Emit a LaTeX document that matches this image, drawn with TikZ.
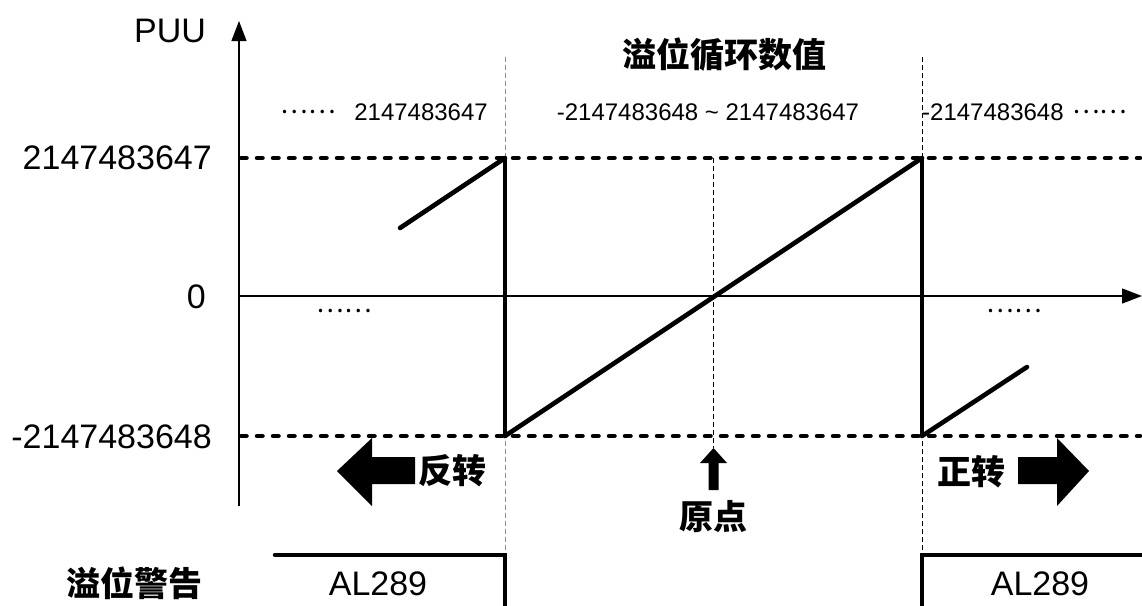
\documentclass[tikz,border=0pt]{standalone}
\usepackage{fontspec}
\setmainfont{Liberation Sans}
\newfontfamily\cjk{Noto Sans CJK SC}
\usetikzlibrary{arrows.meta}
\definecolor{PUBlack}{HTML}{000000}
\definecolor{PUGray}{HTML}{8C8C8C}
\tikzset{
  biglabel/.style={font=\fontsize{34}{40}\selectfont,text=PUBlack,inner sep=0pt},
  rowlabel/.style={font=\fontsize{24}{28}\selectfont,text=PUBlack,inner sep=0pt},
  cjklabel/.style={font=\cjk\bfseries\fontsize{34}{40}\selectfont,text=PUBlack,inner sep=0pt},
  dotlabel/.style={font=\cjk\fontsize{26}{30}\selectfont,text=PUBlack,inner sep=0pt},
  levelline/.style={PUBlack,line width=4.5pt,line cap=round,dash pattern=on 5.5pt off 10.5pt},
  guideline/.style={line width=1pt,dash pattern=on 5pt off 3pt},
  sawline/.style={PUBlack,line width=4.6pt,line cap=round,line join=miter},
  fatarrow/.style={fill=PUBlack}
}
\begin{document}
\begin{tikzpicture}[x=1pt,y=-1pt,line join=round]
  \useasboundingbox (0,0) rectangle (1142,605);
  % axes
  \coordinate (yb) at (239,506);
  \coordinate (yt) at (239,21);
  \coordinate (xl) at (239,296);
  \coordinate (xr) at (1142,296);
  \draw[PUBlack,line width=1.2pt,-{Triangle[length=20pt,width=15pt]}] (yb) -- (yt);
  \draw[PUBlack,line width=1.2pt,-{Triangle[length=20pt,width=15pt]}] (xl) -- (xr);
  \node[biglabel] (puu) at (170,31) {PUU};
  % level lines
  \foreach \y/\nm in {158/top,436/bot}{
    \coordinate (\nm L) at (241,\y);
    \coordinate (\nm R) at (1140,\y);
    \draw[levelline] (\nm L) -- (\nm R);
  }
  \node[biglabel,anchor=east] (vmax) at (212,158) {2147483647};
  \node[biglabel,anchor=east] (vzero) at (206,297) {0};
  \node[biglabel,anchor=east] (vmin) at (212,437) {-2147483648};
  % guide lines
  \coordinate (gL1) at (505,57);   \coordinate (gL2) at (505,555);
  \coordinate (gR1) at (922,57);   \coordinate (gR2) at (922,555);
  \coordinate (gO1) at (713.5,158);
  \draw[guideline,PUGray] (gL1) -- (gL2);
  \draw[guideline,PUBlack] (gR1) -- (gR2);
  % saw tooth
  \coordinate (s0) at (400,228);
  \coordinate (s1) at (505,158);
  \coordinate (s2) at (505,436);
  \coordinate (s3) at (922,158);
  \coordinate (s4) at (922,436);
  \coordinate (s5) at (1027,367);
  \draw[sawline] (s0) -- (s1);
  \draw[sawline,line cap=butt] (s1) -- (s2);
  \draw[sawline] (s2) -- (s3);
  \draw[sawline,line cap=butt] (s3) -- (s4);
  \draw[sawline] (s4) -- (s5);
  % row of values
  \node[cjklabel] (title) at (724,55) {溢位循环数值};
  \node[dotlabel] (dotsA) at (308,112) {……};
  \node[rowlabel,anchor=east] (rowA) at (488,112) {2147483647};
  \node[rowlabel] (rowB) at (708,112) {-2147483648 \char"7E\ 2147483647};
  \node[rowlabel,anchor=west] (rowC) at (922,112) {-2147483648};
  \node[dotlabel,anchor=west] (dotsC) at ([xshift=8pt]rowC.east) {……};
  \node[dotlabel] (dotsL) at (344,311) {……};
  \node[dotlabel] (dotsR) at (1014,311) {……};
  % direction arrows
  \fill[fatarrow] (337,471) -- (372,438) -- (372,457) -- (415,457) -- (415,484)
    -- (372,484) -- (372,506) -- cycle;
  \node[cjklabel] (rev) at (452,471) {反转};
  \fill[fatarrow] (1089,471) -- (1057,438) -- (1057,457) -- (1018,457) -- (1018,484)
    -- (1057,484) -- (1057,506) -- cycle;
  \node[cjklabel] (fwd) at (971,472) {正转};
  \coordinate (gO2) at (713.5,448);
  \draw[guideline,PUBlack] (gO1) -- (gO2);
  \fill[fatarrow] (gO2) -- (727,463) -- (718.5,463) -- (718.5,490) -- (708.5,490)
    -- (708.5,463) -- (700,463) -- cycle;
  \node[cjklabel] (origin) at (713,517) {原点};
  % overflow warning
  \node[cjklabel] (warn) at (134,583) {溢位警告};
  \coordinate (aL0) at (275,555);
  \coordinate (aL1) at (505,555);
  \coordinate (aL2) at (505,607);
  \coordinate (aR0) at (922,607);
  \coordinate (aR1) at (922,555);
  \coordinate (aR2) at (1144,555);
  \draw[PUBlack,line width=4.5pt,line cap=round,line join=miter] (aL0) -- (aL1) -- (aL2);
  \draw[PUBlack,line width=4.5pt,line cap=butt,line join=miter] (aR0) -- (aR1) -- (aR2);
  \node[biglabel] (alL) at (378,584) {AL289};
  \node[biglabel] (alR) at (1040,584) {AL289};
\end{tikzpicture}
\end{document}
